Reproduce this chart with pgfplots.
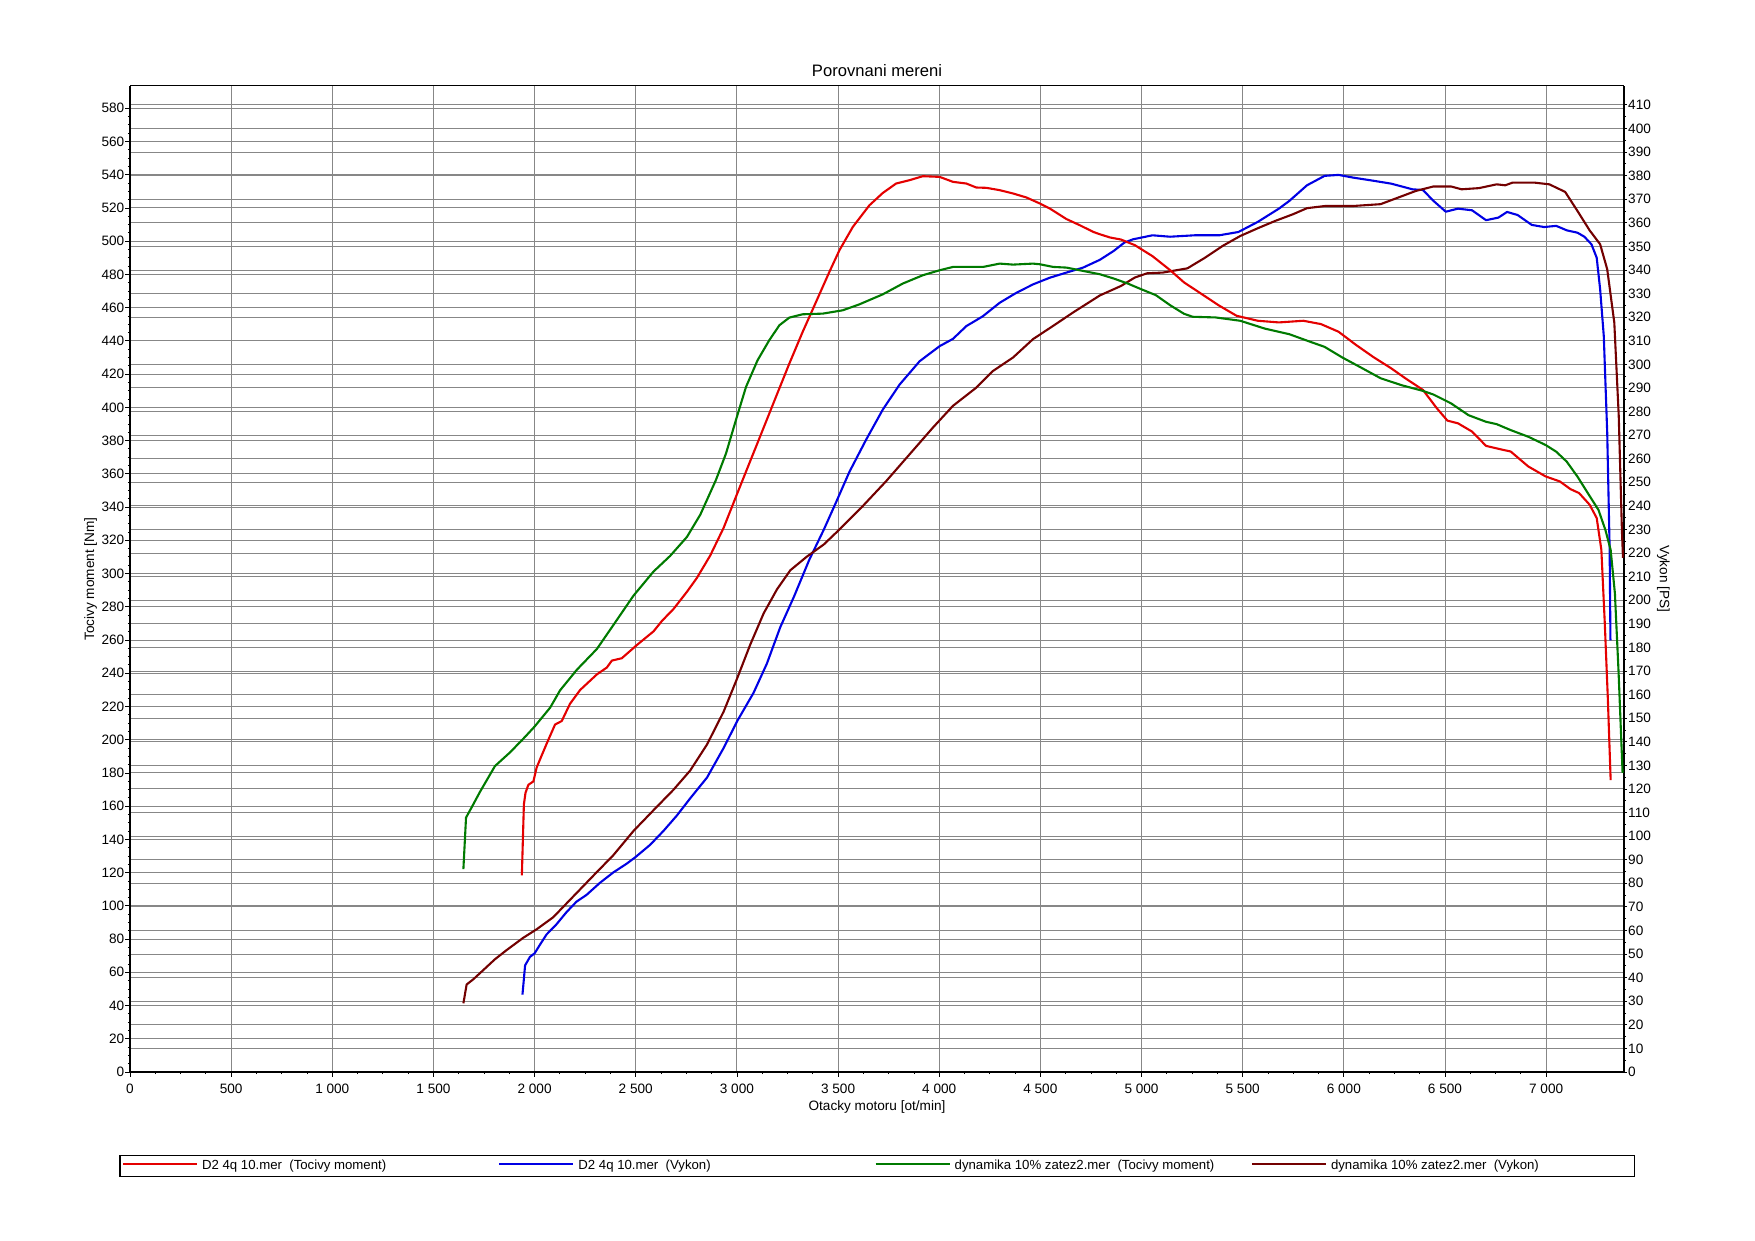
\documentclass[border=0pt]{standalone}
\usepackage{fontspec}
\setmainfont{Liberation Sans}
\usepackage{pgfplots}
\pgfplotsset{compat=1.18}
\definecolor{cRed}{RGB}{228,0,0}
\definecolor{cBlue}{RGB}{0,0,228}
\definecolor{cGreen}{RGB}{0,122,0}
\definecolor{cMaroon}{RGB}{115,0,0}
\definecolor{cGrid}{RGB}{135,135,135}
\pgfplotsset{set layers}
\pgfplotsset{
  common/.style={
    scale only axis, width=747pt, height=493pt,
    at={(65pt,84.5pt)}, anchor=south west,
    xmin=0, xmax=7385,
    font=\fontsize{6.8}{8}\selectfont,
    /pgf/number format/assume math mode=true,
    /pgf/number format/1000 sep={\ },
    scaled x ticks=false, scaled y ticks=false,
    tick align=outside,
    major tick length=2.4pt, minor tick length=1.1pt,
    grid style={color=cGrid, line width=0.45pt},
    tick style={black, line width=0.4pt},
    tick label style={font=\fontsize{6.8}{8}\selectfont},
  },
  curve/.style={line width=1.05pt, line join=round},
}
\begin{document}
\begin{tikzpicture}
% ---------- right axis: power [PS] ----------
\begin{axis}[common,
  ymin=0, ymax=418,
  axis x line*=top, xtick=\empty,
  axis y line*=right,
  x axis line style={line width=0.5pt},
  y axis line style={line width=1pt},
  ytick={0,10,...,410}, minor y tick num=1,
  major tick length=1.6pt, minor tick length=1pt,
  ymajorgrids,
  yticklabel style={inner sep=0.3pt},
  ylabel={Vykon [PS]},
  ylabel style={at={(axis description cs:1.0263,0.5)}, anchor=center, rotate=180},
]
\addplot[curve, cBlue] coordinates {
(1940,32.8) (1953,45.2) (1977,48.8) (2000,50.3) (2026,53.9) (2059,58.3) (2109,62.7)
(2158,67.8) (2207,72.2) (2257,75.1) (2323,80.2) (2389,84.6) (2455,88.3) (2500,91.2)
(2571,96.3) (2637,102.2) (2703,108.7) (2769,116.0) (2852,124.8) (2934,137.3) (3003,149.0)
(3082,160.7) (3148,173.1) (3214,188.5) (3282,201.5) (3358,217.2) (3430,230.0) (3490,241.5)
(3556,254.4) (3639,268.1) (3721,280.8) (3804,291.4) (3903,301.3) (4002,307.7) (4068,310.8)
(4134,316.2) (4216,320.4) (4299,326.1) (4381,330.3) (4464,333.9) (4546,336.7) (4629,338.9)
(4711,341.0) (4794,344.3) (4863,348.1) (4915,351.6) (4958,353.0) (5054,354.7) (5141,354.1)
(5262,354.7) (5384,354.7) (5479,356.1) (5575,360.4) (5679,366.0) (5731,369.3) (5818,375.9)
(5905,379.9) (5974,380.3) (6043,379.2) (6148,377.8) (6234,376.6) (6339,374.2) (6391,373.9)
(6443,369.3) (6504,364.7) (6564,366.0) (6634,365.3) (6703,361.1) (6764,362.2) (6807,364.6)
(6859,363.3) (6929,359.1) (6990,358.2) (7050,358.7) (7102,356.8) (7155,355.8) (7189,354.1)
(7224,350.9) (7250,345.2) (7267,331.8) (7285,312.0) (7302,271.0) (7314,221.5) (7318,183)
};
\addplot[curve, cMaroon] coordinates {
(1648,29.1) (1664,37.1) (1697,39.3) (1730,41.9) (1804,47.8) (1862,51.7) (1944,56.9)
(2010,60.5) (2092,65.6) (2191,74.4) (2290,83.2) (2389,91.9) (2489,102.2) (2588,111.0)
(2687,119.7) (2769,127.8) (2852,138.8) (2934,152.7) (3000,166.6) (3066,181.2) (3132,194.4)
(3198,204.6) (3264,212.7) (3346,218.5) (3429,223.6) (3507,230.0) (3622,239.9) (3738,250.5)
(3853,261.8) (3969,273.2) (4068,282.4) (4183,290.1) (4266,297.2) (4365,302.9) (4464,310.7)
(4563,316.3) (4662,322.0) (4794,329.2) (4898,333.2) (4967,336.8) (5028,338.6) (5106,338.9)
(5227,340.7) (5314,345.2) (5401,350.2) (5488,354.4) (5575,357.7) (5661,360.8) (5748,363.6)
(5818,366.2) (5905,367.1) (6043,367.1) (6182,367.9) (6269,370.7) (6356,373.5) (6443,375.4)
(6530,375.4) (6582,374.2) (6668,374.7) (6755,376.3) (6798,375.9) (6833,377.0) (6946,377.0)
(7016,376.3) (7094,373.1) (7155,365.0) (7215,356.8) (7267,350.9) (7302,340.3) (7337,317.7)
(7359,278.1) (7375,228.6) (7380,218)
};
\end{axis}
% ---------- left axis: torque [Nm] ----------
\begin{axis}[common,
  ymin=0, ymax=593.4,
  axis x line*=bottom, axis y line*=left,
  axis line style={line width=1pt},
  xtick={0,500,...,7000}, minor x tick num=3,
  ytick={0,20,...,580}, minor y tick num=3,
  xmajorgrids, ymajorgrids,
  xticklabel style={anchor=base, yshift=-8.3pt},
  yticklabel style={inner sep=0.3pt},
  xlabel={Otacky motoru [ot/min]},
  xlabel style={at={(axis description cs:0.5,0)}, anchor=base, yshift=-19.2pt},
  ylabel={Tocivy moment [Nm]},
  ylabel style={at={(axis description cs:-0.0264,0.5)}, anchor=center},
  title={Porovnani mereni},
  every axis title shift=0pt,
  title style={at={(axis description cs:0.5,1)}, anchor=base, yshift=4.85pt, font=\fontsize{8.3}{10}\selectfont},
  legend columns=4,
  legend image code/.code={\draw[#1] (0pt,1pt) -- (37pt,1pt);},
  legend style={at={(axis description cs:-0.0071,-0.0842)}, anchor=north west,
    draw=black, line width=0.6pt, fill=white,
    inner xsep=1pt, inner ysep=1.9pt,
    font=\fontsize{6.6}{8}\selectfont,
    cells={anchor=west},
    nodes={inner sep=0pt, text height=5.2pt, text depth=1.5pt},
    /tikz/every even column/.style={column sep=0pt},
    /tikz/every odd column/.style={column sep=0pt}},
]
\addplot[curve, cRed] coordinates {
(1937,118.3) (1947,161.0) (1955,168.0) (1969,172.8) (1994,174.9) (2010,183.2) (2035,190.5)
(2060,197.7) (2101,209.1) (2134,211.2) (2175,221.6) (2225,229.9) (2308,239.3) (2357,243.4)
(2382,247.6) (2431,249.0) (2505,256.9) (2588,265.2) (2629,271.4) (2687,278.7) (2753,289.0)
(2802,297.3) (2868,310.8) (2934,327.4) (2995,346.1) (3061,366.2) (3127,386.2) (3193,406.3)
(3259,426.3) (3325,445.4) (3391,463.4) (3457,481.5) (3507,494.6) (3573,508.6) (3655,521.6)
(3721,529.0) (3787,534.7) (3853,536.7) (3919,539.1) (4002,538.7) (4068,535.7) (4134,534.7)
(4183,532.3) (4233,532.1) (4299,530.7) (4365,528.7) (4431,526.3) (4497,522.7) (4546,519.7)
(4629,513.3) (4695,509.6) (4761,505.6) (4793,504.2) (4845,502.2) (4898,501.0) (4967,497.6)
(5054,491.0) (5141,482.6) (5210,475.2) (5297,468.2) (5384,461.2) (5470,455.1) (5575,452.1)
(5679,451.1) (5800,452.1) (5887,450.1) (5974,445.5) (6061,437.5) (6148,430.1) (6234,423.5)
(6304,417.5) (6391,410.5) (6460,399.4) (6512,392.0) (6564,390.4) (6634,385.4) (6703,376.8)
(6773,374.8) (6825,373.4) (6912,364.4) (6998,358.4) (7068,355.4) (7120,350.8) (7163,348.4)
(7215,341.4) (7250,333.4) (7273,314.3) (7290,270.0) (7305,225.0) (7319,175.7)
};
\addlegendentry{\hspace*{2pt}\makebox[148.1pt][l]{D2 4q 10.mer\ \ (Tocivy moment)}}
\addlegendimage{curve, cBlue}
\addlegendentry{\hspace*{2pt}\makebox[148.1pt][l]{D2 4q 10.mer\ \ (Vykon)}}
\addplot[curve, cGreen] coordinates {
(1648,122.1) (1661,153.1) (1689,159.3) (1730,168.6) (1804,184.1) (1879,192.4) (1953,201.7)
(2000,207.9) (2077,219.3) (2126,229.7) (2209,242.1) (2308,254.6) (2390,269.1) (2489,286.7)
(2588,301.2) (2670,310.6) (2753,322.0) (2819,335.4) (2896,356.2) (2946,372.2) (2995,392.3)
(3045,412.3) (3102,428.3) (3160,440.4) (3210,449.4) (3259,454.0) (3325,456.0) (3424,456.4)
(3523,458.4) (3606,462.0) (3721,468.0) (3820,474.5) (3919,479.5) (4002,482.5) (4068,484.5)
(4217,484.5) (4299,486.5) (4365,485.9) (4464,486.5) (4497,486.1) (4563,484.5) (4629,484.1)
(4711,482.1) (4794,480.1) (4863,477.5) (4932,474.5) (5002,470.9) (5071,467.5) (5141,461.5)
(5210,456.3) (5253,454.5) (5366,454.1) (5488,452.1) (5609,447.4) (5731,444.0) (5835,439.4)
(5905,436.4) (5991,430.1) (6078,424.4) (6182,417.5) (6286,413.3) (6391,409.9) (6443,407.7)
(6530,402.4) (6616,395.3) (6703,391.3) (6755,389.9) (6825,386.3) (6912,382.3) (6998,377.3)
(7050,373.3) (7102,367.3) (7155,358.3) (7207,348.2) (7259,338.2) (7293,326.2) (7319,314.2)
(7340,288.0) (7358,241.0) (7378,180.0)
};
\addlegendentry{\hspace*{2pt}\makebox[148.1pt][l]{dynamika 10\% zatez2.mer\ \ (Tocivy moment)}}
\addlegendimage{curve, cMaroon}
\addlegendentry{\hspace*{2pt}\makebox[150.8pt][l]{dynamika 10\% zatez2.mer\ \ (Vykon)}}
\end{axis}
\path (0,0) rectangle (877.5pt,620.5pt);
\end{tikzpicture}
\end{document}
